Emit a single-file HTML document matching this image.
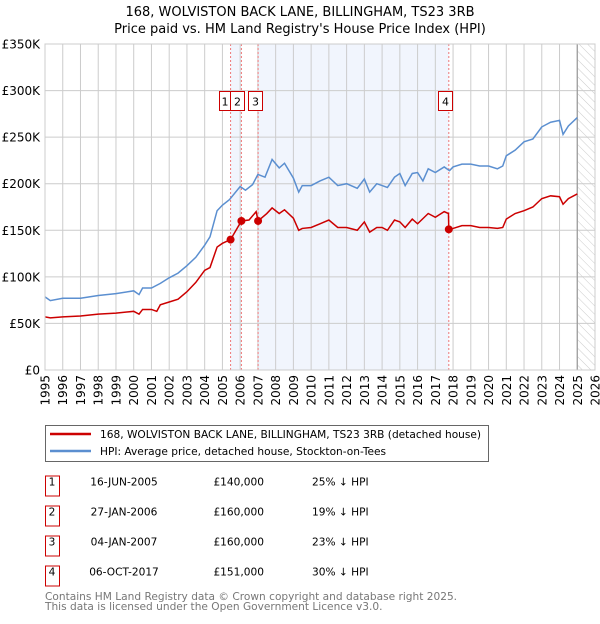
<!DOCTYPE html>
<html><head><meta charset="utf-8"><style>
body{margin:0;background:#fff;font-family:"DejaVu Sans","Liberation Sans",sans-serif;}
</style></head><body>
<svg id="chart" width="600" height="620" xmlns="http://www.w3.org/2000/svg" font-family="DejaVu Sans, Liberation Sans, sans-serif">
<defs><pattern id="hatch" width="6" height="6" patternUnits="userSpaceOnUse" patternTransform="rotate(-45)"><line x1="0" y1="0" x2="0" y2="6" stroke="#ccc" stroke-width="1"/></pattern></defs>
<text x="300" y="16" text-anchor="middle" font-size="13">168, WOLVISTON BACK LANE, BILLINGHAM, TS23 3RB</text>
<text x="300" y="33" text-anchor="middle" font-size="13">Price paid vs. HM Land Registry's House Price Index (HPI)</text>
<g id="plot"></g>
<g>
<rect x="45.5" y="425.5" width="443" height="36" fill="#fff" stroke="#666"/>
<line x1="50" y1="434" x2="91" y2="434" stroke="#cc0000" stroke-width="2.5"/>
<text x="100" y="438" font-size="10.6">168, WOLVISTON BACK LANE, BILLINGHAM, TS23 3RB (detached house)</text>
<line x1="50" y1="451" x2="91" y2="451" stroke="#5b8fd0" stroke-width="2.5"/>
<text x="100" y="455" font-size="10.6">HPI: Average price, detached house, Stockton-on-Tees</text>
</g>
<g id="table"></g>
<text x="45" y="600" font-size="10.6" fill="#777">Contains HM Land Registry data © Crown copyright and database right 2025.</text>
<text x="45" y="610" font-size="10.6" fill="#777">This data is licensed under the Open Government Licence v3.0.</text>
</svg>
<script>
const yTicks=[0,50,100,150,200,250,300,350];
const yTickLabels=["£0","£50K","£100K","£150K","£200K","£250K","£300K","£350K"];
const years=[1995,1996,1997,1998,1999,2000,2001,2002,2003,2004,2005,2006,2007,2008,2009,2010,2011,2012,2013,2014,2015,2016,2017,2018,2019,2020,2021,2022,2023,2024,2025,2026];
const hpiDates=[1995,1995.3,1996,1997,1998,1999,2000,2000.3,2000.5,2001,2001.5,2002,2002.5,2003,2003.5,2004,2004.3,2004.7,2005,2005.4,2006,2006.3,2006.7,2007,2007.4,2007.8,2008.2,2008.5,2009,2009.3,2009.5,2010,2010.5,2011,2011.5,2012,2012.6,2013,2013.3,2013.7,2014,2014.3,2014.7,2015,2015.3,2015.7,2016,2016.3,2016.6,2017,2017.5,2017.8,2018,2018.5,2019,2019.5,2020,2020.5,2020.8,2021,2021.5,2022,2022.5,2023,2023.5,2024,2024.2,2024.5,2025];
const hpiValues=[78.5,74.5,77,77,80,82,85,81,88,88,93,99,104,112,121,134,143,171,177,183,197,193,199,210,207,226,217,222,206,191,198,198,203,207,198,200,195,205,191,200,198,196,207,211,198,211,212,203,216,212,218,214,218,221,221,219,219,216,219,230,236,245,248,261,266,268,253,262,271];
const priceDates=[1995,1995.3,1996,1997,1998,1999,2000,2000.3,2000.5,2001,2001.3,2001.5,2002,2002.5,2003,2003.5,2004,2004.3,2004.7,2005,2005.46,2006.07,2006.5,2006.9,2007.01,2007.5,2007.8,2008.2,2008.5,2009,2009.3,2009.5,2010,2010.5,2011,2011.5,2012,2012.6,2013,2013.3,2013.7,2014,2014.3,2014.7,2015,2015.3,2015.7,2016,2016.6,2017,2017.5,2017.74,2017.76,2018,2018.5,2019,2019.5,2020,2020.5,2020.8,2021,2021.5,2022,2022.5,2023,2023.5,2024,2024.2,2024.5,2025];
const priceValues=[57,56,57,58,60,61,63,60,65,65,63,70,73,76,84,94,107,110,132,136,140,160,161,170,160,168,174,168,172,163,150,152,153,157,161,153,153,150,159,148,153,153,150,161,159,153,162,157,168,164,170,168,151,152,155,155,153,153,152,153,162,168,171,175,184,187,186,178,184,189];
const saleDates=[2005.46,2006.07,2007.01,2017.76];
const salePrices=[140,160,160,151];
const saleLabels=["1","2","3","4"];
const saleDateText=["16-JUN-2005","27-JAN-2006","04-JAN-2007","06-OCT-2017"];
const salePriceText=["£140,000","£160,000","£160,000","£151,000"];
const saleHpiText=["25% ↓ HPI","19% ↓ HPI","23% ↓ HPI","30% ↓ HPI"];

const L=45,R=595,T=44,B=370,NS="http://www.w3.org/2000/svg";
const X=d=>L+(d-1995)/31*(R-L);
const Y=v=>B-v/350*(B-T);
const plot=document.getElementById('plot');
function mk(tag,attrs,parent){const e=document.createElementNS(NS,tag);for(const k in attrs)e.setAttribute(k,attrs[k]);(parent||plot).appendChild(e);return e;}
let s1=mk('rect',{x:X(saleDates[0]),y:T,width:X(saleDates[1])-X(saleDates[0]),height:B-T,fill:'#eef3fd',opacity:0.8});


let s2=mk('rect',{x:X(saleDates[2]),y:T,width:X(saleDates[3])-X(saleDates[2]),height:B-T,fill:'#eef3fd',opacity:0.8});


let h=mk('rect',{x:X(2025),y:T,width:R-X(2025),height:B-T,fill:'url(#hatch)'});


years.forEach(yr=>{
  let g=mk('line',{x1:X(yr),x2:X(yr),y1:T,y2:B,stroke:'#ccc','stroke-width':1});
  
  
  let t=mk('text',{x:0,y:0,'font-size':12,'text-anchor':'end',transform:`translate(${X(yr)+4.5},375) rotate(-90)`});
  t.textContent=yr;
  
  
});
yTicks.forEach((v,i)=>{
  let g=mk('line',{x1:L,x2:R,y1:Y(v),y2:Y(v),stroke:'#ccc','stroke-width':1});
  
  
  let t=mk('text',{x:40,y:Y(v)+4.5,'font-size':12,'text-anchor':'end'});
  t.textContent=yTickLabels[i];
  
  
});
let nowLine=mk('line',{x1:X(2025),x2:X(2025),y1:T,y2:B,stroke:'#999','stroke-width':1.2});


saleDates.forEach((d,i)=>{
  let l=mk('line',{x1:X(d),x2:X(d),y1:T,y2:B,stroke:'#ee7777','stroke-width':1,'stroke-dasharray':'2,2'});
  
  
});
let hp=mk('polyline',{points:hpiDates.map((d,i)=>X(d)+','+Y(hpiValues[i])).join(' '),fill:'none',stroke:'#5b8fd0','stroke-width':1.5});


let pp=mk('polyline',{points:priceDates.map((d,i)=>X(d)+','+Y(priceValues[i])).join(' '),fill:'none',stroke:'#cc0000','stroke-width':1.5});


saleDates.forEach((d,i)=>{
  let c=mk('circle',{cx:X(d),cy:Y(salePrices[i]),r:4,fill:'#cc0000'});
  
  
});
const boxX=[219,230,248,438];
saleLabels.forEach((lab,i)=>{
  let r=mk('rect',{x:boxX[i]+0.5,y:91.5,width:i==0?11:14,height:19,fill:'#fff',stroke:'#cc0000'});
  
  
  let t=mk('text',{x:boxX[i]+(i==0?6:7.5),y:105.5,'font-size':11,'text-anchor':'middle'});
  t.textContent=lab;
  
  
});
let frame=mk('rect',{x:L,y:T,width:R-L,height:B-T,fill:'none',stroke:'#ccc'});


const tb=document.getElementById('table');
saleLabels.forEach((lab,i)=>{
  const cy=486+i*30;
  let r=mk('rect',{x:45.5,y:cy-10,width:14,height:20,fill:'#fff',stroke:'#cc0000'},tb);
  
  
  const cols=[[52,'middle',lab],[124,'middle',saleDateText[i]],[264,'end',salePriceText[i]],[312,'start',saleHpiText[i]]];
  cols.forEach((c,j)=>{
    let t=mk('text',{x:c[0],y:cy-0.5,'font-size':10.6,'text-anchor':c[1]},tb);
    t.textContent=c[2];
    
    
  });
});
</script>
</body></html>
